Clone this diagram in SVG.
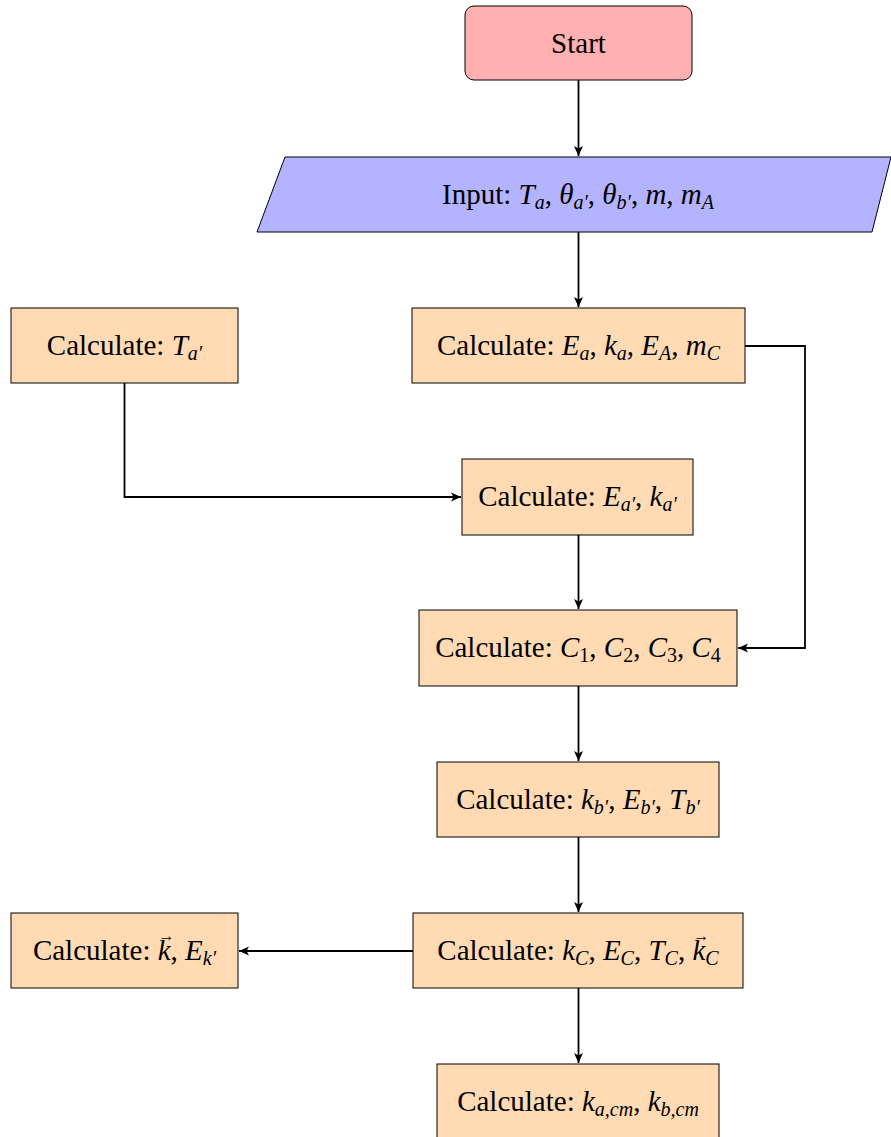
<svg xmlns="http://www.w3.org/2000/svg" width="891" height="1137" viewBox="0 0 891 1137">
<style>
.box{fill:#ffdab3;stroke:#000;stroke-width:1}
.t{font-family:"Liberation Serif",serif;font-size:29px;fill:#000;text-anchor:middle}
.m{font-style:italic}
.s{font-size:20px}
.v{font-size:16px;font-style:normal}
.c{fill:none;stroke:#000;stroke-width:1.8}
</style>
<defs>
<marker id="ah" markerWidth="12" markerHeight="10" refX="10" refY="5" orient="auto" markerUnits="userSpaceOnUse">
<path d="M0,0.5 L10,5 L0,9.5 L2.5,5 z" fill="#000"/>
</marker>
</defs>
<rect width="891" height="1137" fill="#fff"/>
<g id="connectors">
<path class="c" d="M578.5,80 V156" marker-end="url(#ah)"/>
<path class="c" d="M578.5,232 V307" marker-end="url(#ah)"/>
<path class="c" d="M124.5,383 V497 H461" marker-end="url(#ah)"/>
<path class="c" d="M745,346 H805 V648 H738" marker-end="url(#ah)"/>
<path class="c" d="M578.5,535 V609" marker-end="url(#ah)"/>
<path class="c" d="M578.5,686 V761" marker-end="url(#ah)"/>
<path class="c" d="M578.5,837 V912" marker-end="url(#ah)"/>
<path class="c" d="M413,951 H239" marker-end="url(#ah)"/>
<path class="c" d="M578.5,988 V1063" marker-end="url(#ah)"/>
</g>
<g id="start">
<rect x="465" y="6" width="227" height="74" rx="9" fill="#ffb0b0" stroke="#000" stroke-width="1"/>
<text class="t" x="578.5" y="53">Start</text>
</g>
<g id="input">
<polygon points="285,157 891,157 872,232 257,232" fill="#b3b3ff" stroke="#000" stroke-width="1"/>
<text class="t" x="578" y="204">Input: <tspan class="m">T</tspan><tspan class="m s" dy="5">a</tspan><tspan dy="-5">, </tspan><tspan class="m">θ</tspan><tspan class="m s" dy="5">a′</tspan><tspan dy="-5">, </tspan><tspan class="m">θ</tspan><tspan class="m s" dy="5">b′</tspan><tspan dy="-5">, </tspan><tspan class="m">m</tspan>, <tspan class="m">m</tspan><tspan class="m s" dy="5">A</tspan></text>
</g>
<g id="calc-ea">
<rect class="box" x="412" y="308" width="333" height="75"/>
<text class="t" x="578.5" y="355">Calculate: <tspan class="m">E</tspan><tspan class="m s" dy="5">a</tspan><tspan dy="-5">, </tspan><tspan class="m">k</tspan><tspan class="m s" dy="5">a</tspan><tspan dy="-5">, </tspan><tspan class="m">E</tspan><tspan class="m s" dy="5">A</tspan><tspan dy="-5">, </tspan><tspan class="m">m</tspan><tspan class="m s" dy="5">C</tspan></text>
</g>
<g id="calc-ta">
<rect class="box" x="11" y="308" width="227" height="75"/>
<text class="t" x="124.5" y="355">Calculate: <tspan class="m">T</tspan><tspan class="m s" dy="5">a′</tspan></text>
</g>
<g id="calc-ea2">
<rect class="box" x="462" y="459" width="231" height="76"/>
<text class="t" x="577.5" y="506">Calculate: <tspan class="m">E</tspan><tspan class="m s" dy="5">a′</tspan><tspan dy="-5">, </tspan><tspan class="m">k</tspan><tspan class="m s" dy="5">a′</tspan></text>
</g>
<g id="calc-c">
<rect class="box" x="419" y="610" width="318" height="76"/>
<text class="t" x="578" y="657">Calculate: <tspan class="m">C</tspan><tspan class="s" dy="5">1</tspan><tspan dy="-5">, </tspan><tspan class="m">C</tspan><tspan class="s" dy="5">2</tspan><tspan dy="-5">, </tspan><tspan class="m">C</tspan><tspan class="s" dy="5">3</tspan><tspan dy="-5">, </tspan><tspan class="m">C</tspan><tspan class="s" dy="5">4</tspan></text>
</g>
<g id="calc-kb">
<rect class="box" x="437" y="762" width="282" height="75"/>
<text class="t" x="578" y="809">Calculate: <tspan class="m">k</tspan><tspan class="m s" dy="5">b′</tspan><tspan dy="-5">, </tspan><tspan class="m">E</tspan><tspan class="m s" dy="5">b′</tspan><tspan dy="-5">, </tspan><tspan class="m">T</tspan><tspan class="m s" dy="5">b′</tspan></text>
</g>
<g id="calc-kc">
<rect class="box" x="413" y="913" width="330" height="75"/>
<text class="t" x="578" y="960">Calculate: <tspan class="m">k</tspan><tspan class="m s" dy="5">C</tspan><tspan dy="-5">, </tspan><tspan class="m">E</tspan><tspan class="m s" dy="5">C</tspan><tspan dy="-5">, </tspan><tspan class="m">T</tspan><tspan class="m s" dy="5">C</tspan><tspan dy="-5">, </tspan><tspan class="m">k</tspan><tspan class="v" dx="-12" dy="-19">→</tspan><tspan class="m s" dx="-4" dy="24">C</tspan></text>
</g>
<g id="calc-kvec">
<rect class="box" x="11" y="913" width="227" height="75"/>
<text class="t" x="124.5" y="960">Calculate: <tspan class="m">k</tspan><tspan class="v" dx="-12" dy="-19">→</tspan><tspan dx="-4" dy="19">, </tspan><tspan class="m">E</tspan><tspan class="m s" dy="5">k′</tspan></text>
</g>
<g id="calc-kacm">
<rect class="box" x="437" y="1064" width="282" height="80"/>
<text class="t" x="578" y="1111">Calculate: <tspan class="m">k</tspan><tspan class="m s" dy="5">a,cm</tspan><tspan dy="-5">, </tspan><tspan class="m">k</tspan><tspan class="m s" dy="5">b,cm</tspan></text>
</g>
</svg>
